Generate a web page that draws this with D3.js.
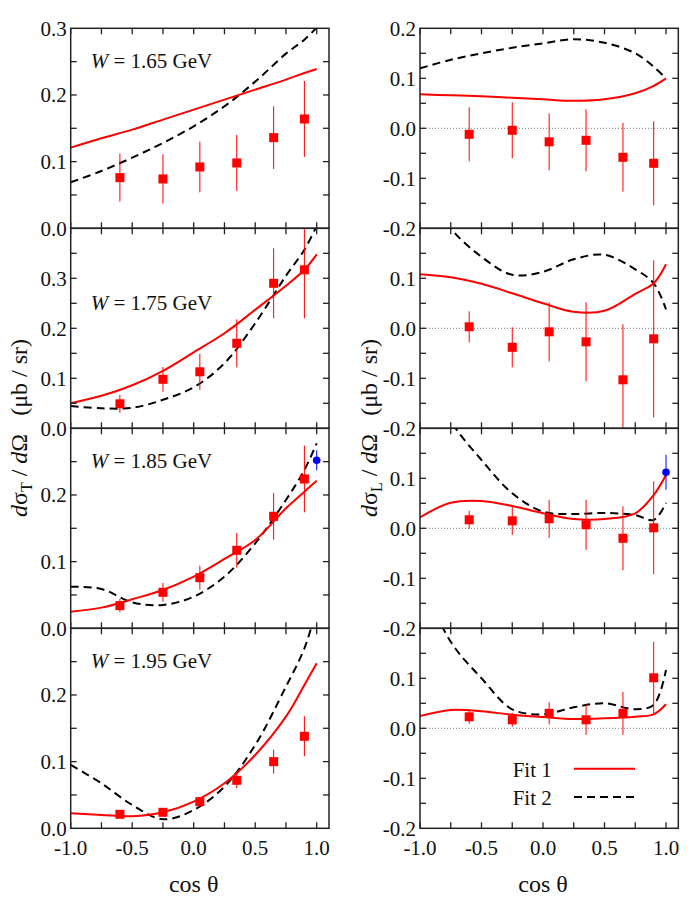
<!DOCTYPE html>
<html><head><meta charset="utf-8">
<script src="https://cdn.jsdelivr.net/npm/d3@7"></script>
<style>body{margin:0;background:#fff}svg{display:block}</style>
</head><body>
<script>
// ---- data ----
const dataX = [-0.6, -0.25, 0.05, 0.35, 0.65, 0.9];
const fitX  = [-1, -0.75, -0.5, -0.25, 0, 0.25, 0.5, 0.75, 0.9, 1.0];
const energies = ["1.65", "1.75", "1.85", "1.95"];

const T165 = [0.076, 0.074, 0.092, 0.098, 0.136, 0.164];
const T165err = [0.036, 0.037, 0.038, 0.042, 0.047, 0.057];
const T175 = [0.049, 0.098, 0.113, 0.170, 0.290, 0.317];
const T175err = [0.018, 0.025, 0.036, 0.048, 0.070, 0.097];
const T185 = [0.034, 0.054, 0.076, 0.117, 0.168, 0.224];
const T185err = [0.010, 0.014, 0.018, 0.026, 0.035, 0.050];
const T195 = [0.021, 0.024, 0.040, 0.072, 0.100, 0.138];
const T195err = [0.005, 0.005, 0.007, 0.012, 0.018, 0.030];

const L165 = [-0.012, -0.004, -0.027, -0.024, -0.058, -0.070];
const L165err = [0.054, 0.056, 0.057, 0.062, 0.069, 0.084];
const L175 = [0.003, -0.038, -0.007, -0.027, -0.103, -0.021];
const L175err = [0.031, 0.040, 0.059, 0.079, 0.111, 0.157];
const L185 = [0.017, 0.015, 0.019, 0.007, -0.020, 0.001];
const L185err = [0.018, 0.028, 0.038, 0.050, 0.064, 0.093];
const L195 = [0.023, 0.017, 0.030, 0.017, 0.030, 0.101];
const L195err = [0.014, 0.014, 0.022, 0.030, 0.043, 0.072];

// extra point at cos θ = 1 (W = 1.85 GeV)
const blueX = 1.0;
const blueT = 0.252, blueTerr = 0.015;
const blueL = 0.112, blueLerr = 0.035;

// Fit 1 (solid red) and Fit 2 (dashed black) on fitX
const fit1T165 = [0.121, 0.135, 0.148, 0.163, 0.178, 0.193, 0.208, 0.223, 0.233, 0.239];
const fit2T165 = [0.069, 0.086, 0.106, 0.128, 0.153, 0.183, 0.220, 0.262, 0.283, 0.301];
const fit1T175 = [0.050, 0.065, 0.086, 0.115, 0.152, 0.190, 0.237, 0.285, 0.317, 0.348];
const fit2T175 = [0.0446, 0.040, 0.041, 0.057, 0.082, 0.130, 0.210, 0.305, 0.357, 0.405];
const fit1T185 = [0.025, 0.031, 0.0435, 0.0575, 0.0775, 0.104, 0.1325, 0.180, 0.205, 0.2215];
const fit2T185 = [0.0625, 0.059, 0.039, 0.035, 0.0475, 0.0775, 0.1275, 0.1925, 0.2375, 0.2775];
const fit1T195 = [0.0225, 0.020, 0.018, 0.024, 0.040, 0.0675, 0.110, 0.1675, 0.215, 0.2475];
const fit2T195 = [0.095, 0.0675, 0.035, 0.0135, 0.0275, 0.0625, 0.125, 0.2125, 0.270, 0.330];

const fit1L165 = [0.068, 0.066, 0.064, 0.061, 0.058, 0.055, 0.058, 0.070, 0.085, 0.100];
const fit2L165 = [0.120, 0.137, 0.150, 0.161, 0.170, 0.178, 0.171, 0.150, 0.123, 0.100];
const fit1L175 = [0.108, 0.102, 0.089, 0.070, 0.050, 0.033, 0.035, 0.069, 0.090, 0.128];
const fit2L175 = [0.300, 0.200, 0.143, 0.107, 0.113, 0.138, 0.147, 0.118, 0.090, 0.038];
const fit1L185 = [0.022, 0.051, 0.0546, 0.0446, 0.030, 0.0186, 0.0186, 0.030, 0.0666, 0.1066];
const fit2L185 = [0.350, 0.215, 0.1366, 0.070, 0.0333, 0.0286, 0.0306, 0.0266, 0.0166, 0.051];
const fit1L195 = [0.0246, 0.0366, 0.034, 0.0273, 0.0226, 0.0186, 0.020, 0.0233, 0.028, 0.048];
const fit2L195 = [0.300, 0.173, 0.100, 0.038, 0.028, 0.042, 0.050, 0.038, 0.047, 0.1166];

const xTickLabels = ["-1.0", "-0.5", "0.0", "0.5", "1.0"];
const legendLabels = ["Fit 1", "Fit 2"];

// ---- layout ----
const W = 700, H = 899;
const colLeft = [70.7, 420];
const plotW = 258.3;
const rowTop = [28.3, 228.3, 428.3, 628.3];
const plotH = 200;
const FONT = "'Liberation Serif', 'Times New Roman', Times, serif";

const svg = d3.select("body").append("svg").attr("width", W).attr("height", H)
  .attr("font-family", FONT).style("font-family", FONT);
const defs = svg.append("defs");

const panels = [
  {c:0, r:0, dom:[0,0.3], pts:T165, err:T165err, f1:fit1T165, f2:fit2T165, labels:[0,0.1,0.2,0.3], e:0},
  {c:0, r:1, dom:[0,0.4], pts:T175, err:T175err, f1:fit1T175, f2:fit2T175, labels:[0,0.1,0.2,0.3], e:1},
  {c:0, r:2, dom:[0,0.3], pts:T185, err:T185err, f1:fit1T185, f2:fit2T185, labels:[0,0.1,0.2], e:2, blue:[blueX, blueT, blueTerr]},
  {c:0, r:3, dom:[0,0.3], pts:T195, err:T195err, f1:fit1T195, f2:fit2T195, labels:[0,0.1,0.2], e:3},
  {c:1, r:0, dom:[-0.2,0.2], pts:L165, err:L165err, f1:fit1L165, f2:fit2L165, labels:[-0.2,-0.1,0,0.1,0.2]},
  {c:1, r:1, dom:[-0.2,0.2], pts:L175, err:L175err, f1:fit1L175, f2:fit2L175, labels:[-0.2,-0.1,0,0.1]},
  {c:1, r:2, dom:[-0.2,0.2], pts:L185, err:L185err, f1:fit1L185, f2:fit2L185, labels:[-0.2,-0.1,0,0.1], blue:[blueX, blueL, blueLerr]},
  {c:1, r:3, dom:[-0.2,0.2], pts:L195, err:L195err, f1:fit1L195, f2:fit2L195, labels:[-0.2,-0.1,0,0.1], legend:true},
];

const frameCol = "#222";
const tickLen = 6;
function txt(sel) { return sel.append("text").attr("font-family", FONT).attr("fill", "#111"); }

panels.forEach((p, i) => {
  const x0 = colLeft[p.c], y0 = rowTop[p.r];
  const x = d3.scaleLinear().domain([-1, 1.1]).range([x0, x0 + plotW]);
  const y = d3.scaleLinear().domain(p.dom).range([y0 + plotH, y0]);
  const g = svg.append("g");
  const cid = "clip" + i;
  defs.append("clipPath").attr("id", cid).append("rect")
    .attr("x", x0).attr("y", y0).attr("width", plotW).attr("height", plotH);
  const inner = g.append("g").attr("clip-path", `url(#${cid})`);

  if (p.c === 1) {
    inner.append("line").attr("x1", x(-1)).attr("x2", x(1.1)).attr("y1", y(0)).attr("y2", y(0))
      .attr("stroke", "#777").attr("stroke-width", 1).attr("stroke-dasharray", "1,2");
  }

  const line = d3.line().x((d, j) => x(fitX[j])).y(d => y(d)).curve(d3.curveCatmullRom.alpha(0.5));
  inner.append("path").attr("d", line(p.f2)).attr("fill", "none").attr("stroke", "#000")
    .attr("stroke-width", 2).attr("stroke-dasharray", "8,5");
  inner.append("path").attr("d", line(p.f1)).attr("fill", "none").attr("stroke", "#ff0000")
    .attr("stroke-width", 2);

  p.pts.forEach((v, j) => {
    inner.append("line").attr("x1", x(dataX[j])).attr("x2", x(dataX[j]))
      .attr("y1", y(v - p.err[j])).attr("y2", y(v + p.err[j]))
      .attr("stroke", "#ff0000").attr("stroke-width", 1);
  });
  p.pts.forEach((v, j) => {
    inner.append("rect").attr("x", x(dataX[j]) - 4.5).attr("y", y(v) - 4.5)
      .attr("width", 9).attr("height", 9).attr("fill", "#ff0000");
  });
  if (p.blue) {
    const [bx, bv, be] = p.blue;
    g.append("line").attr("x1", x(bx)).attr("x2", x(bx)).attr("y1", y(bv - be)).attr("y2", y(bv + be))
      .attr("stroke", "#0000ff").attr("stroke-width", 1);
    g.append("circle").attr("cx", x(bx)).attr("cy", y(bv)).attr("r", 3.8).attr("fill", "#0000ff");
  }

  const tg = g.append("g").attr("stroke", frameCol).attr("stroke-width", 1.3);
  d3.range(-1, 1.01, 0.25).forEach(t => {
    tg.append("line").attr("x1", x(t)).attr("x2", x(t)).attr("y1", y0).attr("y2", y0 + tickLen);
    tg.append("line").attr("x1", x(t)).attr("x2", x(t)).attr("y1", y0 + plotH).attr("y2", y0 + plotH - tickLen);
  });
  const nMinor = Math.round((p.dom[1] - p.dom[0]) / 0.05);
  for (let k = 1; k < nMinor; k++) {
    const t = p.dom[0] + k * 0.05;
    tg.append("line").attr("x1", x0).attr("x2", x0 + tickLen).attr("y1", y(t)).attr("y2", y(t));
    tg.append("line").attr("x1", x0 + plotW).attr("x2", x0 + plotW - tickLen).attr("y1", y(t)).attr("y2", y(t));
  }

  g.append("rect").attr("x", x0).attr("y", y0).attr("width", plotW).attr("height", plotH)
    .attr("fill", "none").attr("stroke", frameCol).attr("stroke-width", 1.5);

  p.labels.forEach(t => {
    txt(g).attr("x", x0 - 4).attr("y", y(t)).attr("dy", "0.35em")
      .attr("text-anchor", "end").attr("font-size", 21).text(d3.format(".1f")(t).replace("−", "-"));
  });

  if (p.r === 3) {
    [-1, -0.5, 0, 0.5, 1].forEach((t, k) => {
      txt(g).attr("x", x(t)).attr("y", 855).attr("text-anchor", "middle")
        .attr("font-size", 21).text(xTickLabels[k]);
    });
    txt(g).attr("x", x(0)).attr("y", 892).attr("text-anchor", "middle").attr("font-size", 24).text("cos θ");
  }

  if (p.e !== undefined) {
    const base = p.r === 1 ? y0 + 81.7 : y0 + 40;
    const t = txt(g).attr("x", x0 + 20).attr("y", base).attr("font-size", 21);
    t.append("tspan").attr("font-style", "italic").text("W");
    t.append("tspan").text(" = " + energies[p.e] + " GeV");
  }

  if (p.legend) {
    const ly = [776.7, 805];
    legendLabels.forEach((lab, k) => {
      txt(g).attr("x", 512.7).attr("y", ly[k]).attr("font-size", 21).text(lab);
      g.append("line").attr("x1", 574).attr("x2", 635).attr("y1", ly[k] - 8).attr("y2", ly[k] - 8)
        .attr("stroke", k === 0 ? "#ff0000" : "#000").attr("stroke-width", 2)
        .attr("stroke-dasharray", k === 0 ? null : "8,5");
    });
  }
});

function yTitle(xb, sub) {
  const t = txt(svg).attr("transform", `translate(${xb},428) rotate(-90)`)
    .attr("text-anchor", "middle").attr("font-size", 24);
  t.append("tspan").attr("font-style", "italic").text("d");
  t.append("tspan").text("σ");
  t.append("tspan").attr("font-size", 16).attr("dy", 5).text(sub);
  t.append("tspan").attr("dy", -5).text(" / ");
  t.append("tspan").attr("font-style", "italic").text("d");
  t.append("tspan").text("Ω");
  t.append("tspan").text("\u00a0\u00a0\u00a0(μb / sr)");
}
yTitle(27, "T");
yTitle(377, "L");
</script>
</body></html>
